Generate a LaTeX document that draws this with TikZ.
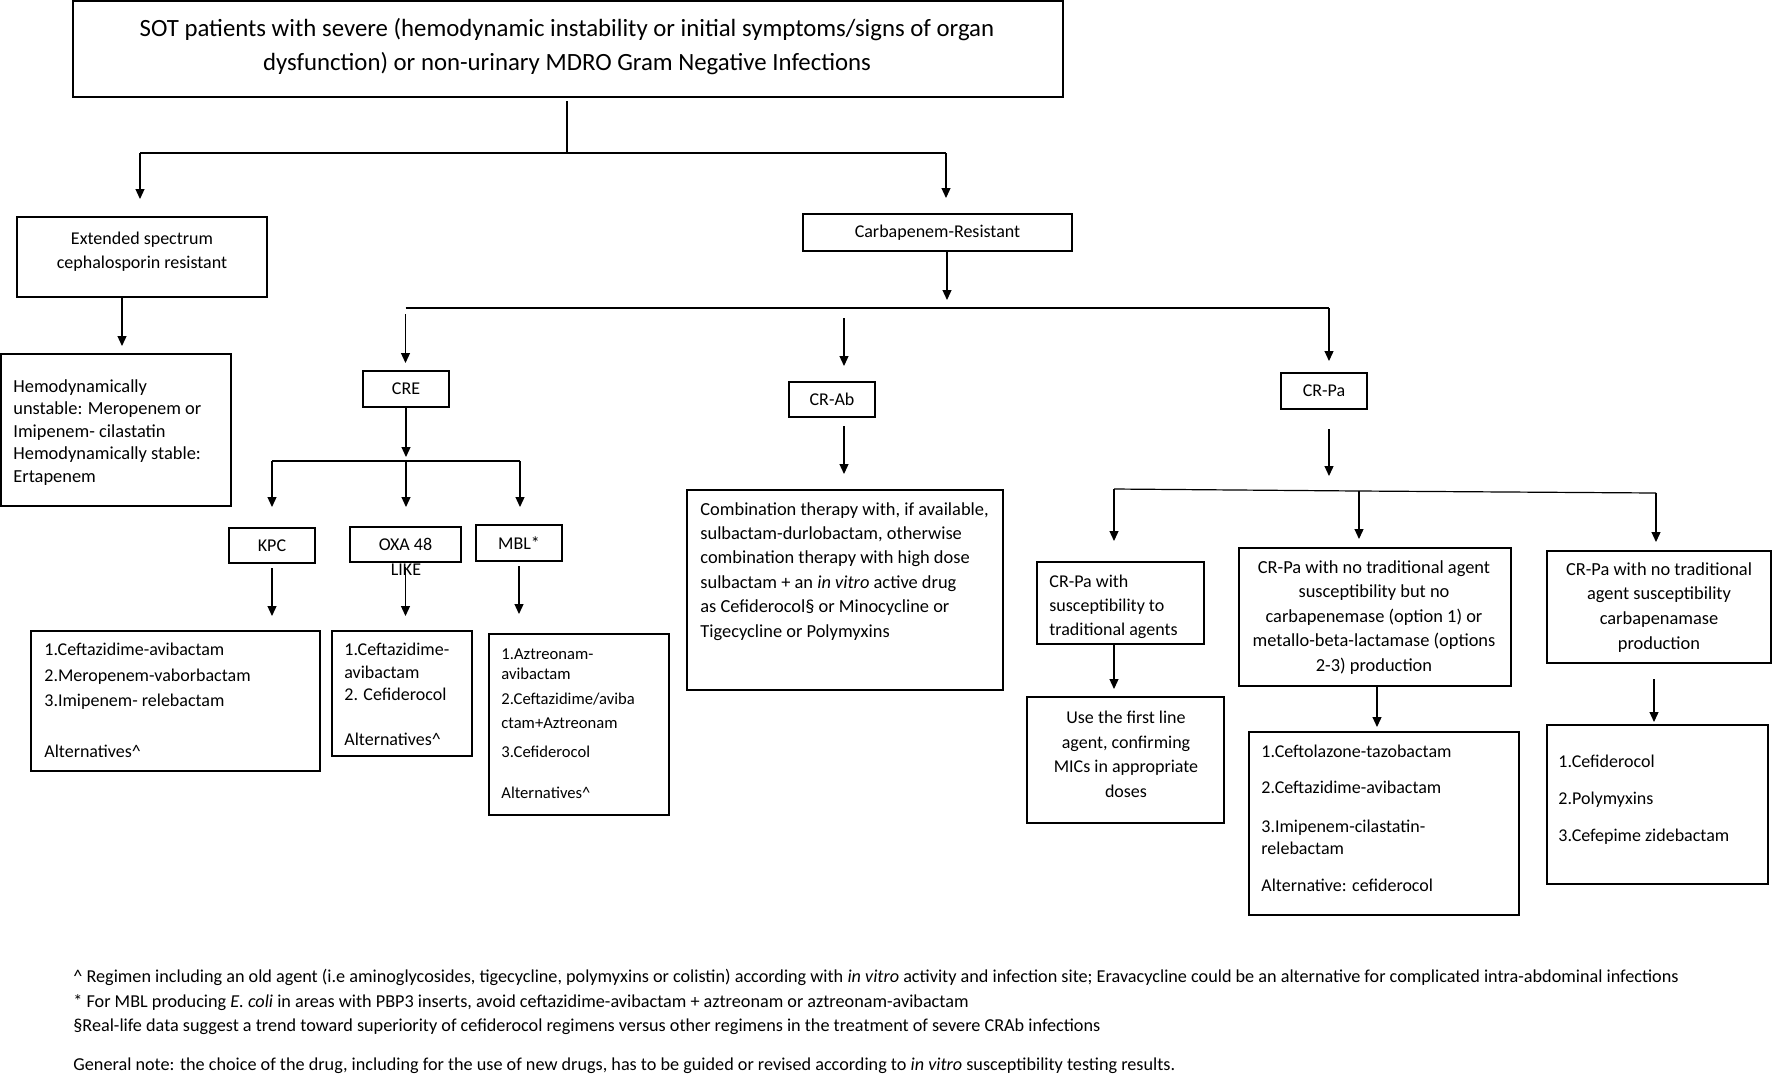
\documentclass[tikz,border=0pt]{standalone}
\usepackage{fontspec}
\setmainfont{Carlito}
\usetikzlibrary{arrows.meta}
\newcommand\mkbox[6]{\node[box, minimum width={(#4-#2)*0.5pt}, minimum height={(#5-#3)*0.5pt}] (#1) at ({(#2+#4)/2},{(#3+#5)/2}) {#6};}
\newcommand\fs[2]{\fontsize{#1}{#2}\selectfont}
\begin{document}
\begin{tikzpicture}[x=0.5pt,y=-0.5pt,
  box/.style={draw, line width=1pt, inner sep=0pt, font=\fs{9}{11}},
  lbl/.style={inner sep=0pt},
  line/.style={line width=0.6pt},
  arr/.style={line, -{Triangle[length=5pt,width=4.5pt]}}]
\useasboundingbox (0,0) rectangle (1772,1073);
% boxes
\mkbox{top}{73}{1}{1063}{97}{}
\mkbox{ext}{17}{217}{267}{297}{}
\mkbox{hemo}{1}{354}{231}{506}{}
\mkbox{cr}{803}{214}{1072}{251}{Carbapenem-Resistant}
\mkbox{cre}{363}{371}{449}{407}{CRE}
\mkbox{kpc}{229}{528}{315}{563}{KPC}
\mkbox{oxa}{350}{527}{461}{562}{OXA 48}
\mkbox{mbl}{476}{525}{562}{561}{MBL*}
\mkbox{kpcl}{31}{631}{320}{771}{}
\mkbox{oxal}{332}{631}{472}{756}{}
\mkbox{mbll}{489}{634}{669}{815}{}
\mkbox{crab}{789}{382}{875}{417}{CR-Ab}
\mkbox{comb}{687}{490}{1003}{690}{}
\mkbox{crpa}{1281}{373}{1367}{409}{CR-Pa}
\mkbox{sus}{1037}{562}{1204}{644}{}
\mkbox{mid}{1239}{548}{1511}{686}{}
\mkbox{carb}{1547}{551}{1771}{663}{}
\mkbox{use}{1027}{697}{1224}{823}{}
\mkbox{midl}{1249}{732}{1519}{915}{}
\mkbox{rightl}{1547}{725}{1768}{884}{}
% texts
\node[lbl, anchor=north, align=center, font=\fs{12.4}{17}] (top-t) at (567,18)
  {SOT patients with severe (hemodynamic instability or initial symptoms/signs of organ\\dysfunction) or non-urinary MDRO Gram Negative Infections};
\node[lbl, anchor=north, align=center, font=\fs{9}{12}] (ext-t) at (142,232)
  {Extended spectrum\\cephalosporin resistant};
\node[lbl, anchor=north west, align=left, font=\fs{9.2}{11.3}] (hemo-t) at (13,379)
  {Hemodynamically\\unstable: Meropenem or\\Imipenem- cilastatin\\Hemodynamically stable:\\Ertapenem};
\node[lbl, font=\fs{9}{11}] (like) at (406,570) {LIKE};
\node[lbl, anchor=north west, align=left, font=\fs{9}{12.75}] (kpcl-t) at (44,643)
  {1.Ceftazidime-avibactam\\2.Meropenem-vaborbactam\\3.Imipenem- relebactam\\[12.75pt]Alternatives\textasciicircum};
\node[lbl, anchor=north west, align=left, font=\fs{9}{11.25}] (oxal-t) at (344,643)
  {1.Ceftazidime-\\avibactam\\2. Cefiderocol\\[11.25pt]Alternatives\textasciicircum};
\node[lbl, anchor=north west, align=left, font=\fs{8.3}{10}] (mbll-t) at (501,648.5)
  {1.Aztreonam-\\avibactam\\[2.5pt]2.Ceftazidime/aviba\\[2pt]ctam+Aztreonam\\[4.5pt]3.Cefiderocol\\[10.5pt]Alternatives\textasciicircum};
\node[lbl, anchor=north west, align=left, font=\fs{9.2}{12.2}] (comb-t) at (700,502)
  {Combination therapy with, if available,\\sulbactam-durlobactam, otherwise\\combination therapy with high dose\\sulbactam + an \textit{in vitro} active drug\\as Cefiderocol§ or Minocycline or\\Tigecycline or Polymyxins};
\node[lbl, anchor=north west, align=left, font=\fs{9}{12}] (sus-t) at (1049,575)
  {CR-Pa with\\susceptibility to\\traditional agents};
\node[lbl, anchor=north, align=center, font=\fs{9.2}{12.25}] (mid-t) at (1374,560)
  {CR-Pa with no traditional agent\\susceptibility but no\\carbapenemase (option 1) or\\metallo-beta-lactamase (options\\2-3) production};
\node[lbl, anchor=north, align=center, font=\fs{9.2}{12.35}] (carb-t) at (1659,562)
  {CR-Pa with no traditional\\agent susceptibility\\carbapenamase\\production};
\node[lbl, anchor=north, align=center, font=\fs{9}{12.2}] (use-t) at (1126,711)
  {Use the first line\\agent, confirming\\MICs in appropriate\\doses};
\node[lbl, anchor=north west, align=left, font=\fs{9}{11}] (midl-t) at (1261,745)
  {1.Ceftolazone-tazobactam\\[7pt]2.Ceftazidime-avibactam\\[8.5pt]3.Imipenem-cilastatin-\\relebactam\\[7.5pt]Alternative: cefiderocol};
\node[lbl, anchor=north west, align=left, font=\fs{9}{18.5}] (rightl-t) at (1558,755)
  {1.Cefiderocol\\2.Polymyxins\\3.Cefepime zidebactam};
\node[lbl, anchor=north west, align=left, font=\fs{9.1}{12.25}] (notes) at (73,969)
  {\textasciicircum{} Regimen including an old agent (i.e aminoglycosides, tigecycline, polymyxins or colistin) according with \textit{in vitro} activity and infection site; Eravacycline could be an alternative for complicated intra-abdominal infections\\
   * For MBL producing \textit{E. coli} in areas with PBP3 inserts, avoid ceftazidime-avibactam + aztreonam or aztreonam-avibactam\\
   §Real-life data suggest a trend toward superiority of cefiderocol regimens versus other regimens in the treatment of severe CRAb infections\\[7.25pt]
   General note: the choice of the drug, including for the use of new drugs, has to be guided or revised according to \textit{in vitro} susceptibility testing results.};
% junction coordinates
\coordinate (jt) at (567,153);
\coordinate (jl) at (140,153);
\coordinate (jr) at (946,153);
\coordinate (jc) at (947,308);
\coordinate (ja) at (405.5,308);
\coordinate (jm) at (844,308);
\coordinate (jb) at (1329,308);
\coordinate (k1) at (272,461);
\coordinate (k2) at (406,461);
\coordinate (k3) at (520,461);
\coordinate (p1) at (1114,489);
\coordinate (p2) at (1359,491);
\coordinate (p3) at (1656,493);
% connectors
\draw[line, shorten <=1.5pt] (top.south -| jt) -- (jt);
\draw[line] (jl) -- (jr);
\draw[arr, shorten >=8.5pt] (jl) -- (jl |- ext.north);
\draw[arr, shorten >=7.5pt] (jr) -- (jr |- cr.north);
\draw[arr, shorten >=3.5pt] ([xshift=-10pt]ext.south) -- ([xshift=-10pt]ext.south |- hemo.north);
\draw[arr, shorten >=4pt] (cr.south -| jc) -- (jc);
\draw[line] (ja) -- (jb);
\draw[arr, shorten <=3pt, shorten >=3.5pt] (ja) -- (ja |- cre.north);
\draw[arr, shorten <=5pt, shorten >=7.5pt] (jm) -- (jm |- crab.north);
\draw[arr, shorten >=5.5pt] (jb) -- (jb |- crpa.north);
\draw[arr, shorten >=2pt] (cre.south -| k2) -- (k2);
\draw[line] (k1) -- (k2) -- (k3);
\draw[arr, shorten >=10pt] (k1) -- (k1 |- kpc.north);
\draw[arr, shorten >=9.5pt] (k2) -- (k2 |- oxa.north);
\draw[arr, shorten >=8.5pt] (k3) -- (k3 |- mbl.north);
\draw[arr, shorten <=2pt, shorten >=7pt] (kpc.south) -- (kpc.south |- kpcl.north);
\draw[arr, shorten <=2pt, shorten >=7pt] (oxa.south) -- (oxa.south |- oxal.north);
\draw[arr, shorten <=2pt, shorten >=9.5pt] (mbl.south) -- (mbl.south |- mbll.north);
\draw[arr, shorten <=4pt, shorten >=7.5pt] (crab.south -| jm) -- (jm |- comb.north);
\draw[arr, shorten <=9.5pt, shorten >=6.5pt] (crpa.south -| jb) -- (jb |- p1);
\draw[line] (p1) -- (p2) -- (p3);
\draw[arr, shorten >=10pt] (p1) -- (p1 |- sus.north);
\draw[arr, shorten >=4pt] (p2) -- (p2 |- mid.north);
\draw[arr, shorten >=4pt] (p3) -- (p3 |- carb.north);
\draw[arr, shorten >=3.5pt] (sus.south -| p1) -- (p1 |- use.north);
\draw[arr, shorten >=2pt] ([xshift=1pt]mid.south) -- ([xshift=1pt]mid.south |- midl.north);
\draw[arr, shorten <=7.5pt, shorten >=1pt] ([xshift=-2.5pt]carb.south) -- ([xshift=-2.5pt]carb.south |- rightl.north);
\end{tikzpicture}
\end{document}
